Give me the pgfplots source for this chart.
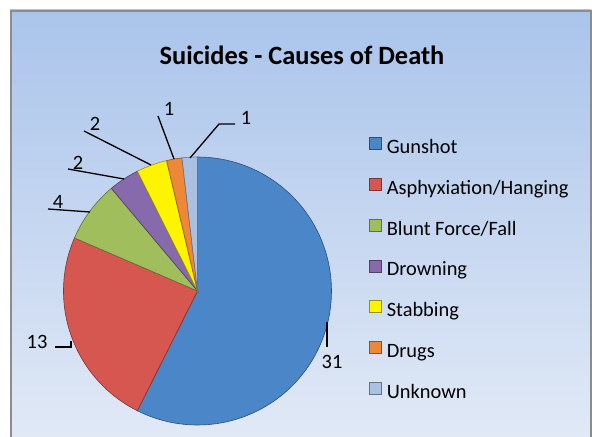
\documentclass[border=0pt]{standalone}
\usepackage{pgfplots}
\pgfplotsset{compat=1.18}
\usepackage{pgfplotstable}
\usepackage{fontspec}
\setmainfont{Carlito}

\definecolor{bgtop}{RGB}{170,196,235}
\definecolor{bgbot}{RGB}{225,233,246}
\definecolor{framegray}{RGB}{140,140,140}
\definecolor{pieblue}{RGB}{74,134,200}
\definecolor{piered}{RGB}{214,86,80}
\definecolor{piegreen}{RGB}{160,190,92}
\definecolor{piepurple}{RGB}{135,106,172}
\definecolor{pieyellow}{RGB}{255,244,0}
\definecolor{pieorange}{RGB}{236,136,56}
\definecolor{piegray}{RGB}{172,192,226}

% suicides by cause, total 54
\pgfplotstableread[col sep=comma]{
name,value,color
Gunshot,31,pieblue
Asphyxiation/Hanging,13,piered
Blunt Force/Fall,4,piegreen
Drowning,2,piepurple
Stabbing,2,pieyellow
Drugs,1,pieorange
Unknown,1,piegray
}\piedata

\newcommand{\lbl}{\fontsize{20.4bp}{24bp}\selectfont}

\begin{document}
\begin{tikzpicture}
\useasboundingbox (0,0) rectangle (592bp,437bp);
% chart area
\shade[top color=bgtop, bottom color=bgbot] (10bp,0) rectangle (591bp,427bp);
\draw[framegray, line width=2bp] (11bp,0) -- (11bp,426bp) -- (591bp,426bp) -- (591bp,0);

\begin{axis}[at={(0,0)}, anchor=south west,
    width=592bp, height=437bp, scale only axis,
    xmin=0, xmax=592, ymin=0, ymax=437,
    hide axis, clip=false,
    legend cell align=left,
    legend image code/.code={\draw[#1] (0bp,-1bp) rectangle (12bp,11bp);},
    legend style={at={(0.6233,0.6865)}, anchor=north west,
      draw=none, fill=none, inner sep=0pt, font=\lbl,
      row sep=20.5bp, column sep=5bp,
      nodes={inner sep=0pt, text height=14bp, text depth=4bp}}]

  \def\startang{90}
  \pgfplotsforeachungrouped \i in {0,...,6}{
    \pgfplotstablegetelem{\i}{value}\of\piedata \let\val\pgfplotsretval
    \pgfplotstablegetelem{\i}{name}\of\piedata \let\nm\pgfplotsretval
    \pgfplotstablegetelem{\i}{color}\of\piedata \let\col\pgfplotsretval
    \pgfmathsetmacro\endang{\startang-360*\val/54}
    \edef\doplot{\noexpand\addplot[fill=\col, draw=\col!60!black, line width=0.6bp,
        domain=\endang:\startang, samples=100, variable=\noexpand\t]
      ({197.5+134*cos(\noexpand\t)},{146+134*sin(\noexpand\t)})
      -- (axis cs:197.5,146) -- cycle;
      \noexpand\addlegendentry{\nm}}
    \doplot
    \global\let\startang\endang
  }

  \node[font=\bfseries\fontsize{26.4bp}{30bp}\selectfont] at (axis cs:302,382) {Suicides - Causes of Death};

  % data labels with leader lines
  \begin{scope}[line width=1.3bp, every node/.style={font=\lbl, inner sep=0pt}]
    \draw (axis cs:327,115) -- (axis cs:327,90);
    \node at (axis cs:332,75) {31};
    \draw (axis cs:55,90) -- (axis cs:71,90) -- (axis cs:71,96);
    \node at (axis cs:37,95) {13};
    \draw (axis cs:48,228) -- (axis cs:90,225);
    \node at (axis cs:58,235) {4};
    \draw (axis cs:68,268) -- (axis cs:124,258);
    \node at (axis cs:78,274) {2};
    \draw (axis cs:84,306) -- (axis cs:151,272);
    \node at (axis cs:95,313) {2};
    \draw (axis cs:158,321) -- (axis cs:174,278);
    \node at (axis cs:169,328) {1};
    \draw (axis cs:190,279) -- (axis cs:219,313) -- (axis cs:235,313);
    \node at (axis cs:246,319) {1};
  \end{scope}
\end{axis}
\end{tikzpicture}
\end{document}
